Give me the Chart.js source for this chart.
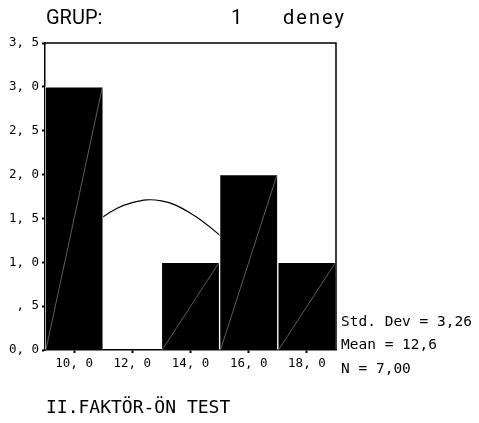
<!DOCTYPE html>
<html>
<head>
<meta charset="utf-8">
<script src="https://cdn.jsdelivr.net/npm/chart.js@4"></script>
<style>
  html, body { margin: 0; padding: 0; background: #fff; }
  canvas { display: block; }
</style>
</head>
<body>
<canvas id="histChart" width="479" height="423"></canvas>
<script>
// Histogram bins (midpoints) and counts
const binMids = [10, 12, 14, 16, 18];
const counts = [3, 0, 1, 2, 1];

// Normal curve read at each whole x value
const curveX = [9, 10, 11, 12, 13, 14, 15, 16, 17, 18, 19];
const curveY = [0.93, 1.25, 1.52, 1.68, 1.70, 1.56, 1.31, 0.99, 0.69, 0.43, 0.25];

const xTicks = [10, 12, 14, 16, 18];
const yTicks = [0, 0.5, 1, 1.5, 2, 2.5, 3, 3.5];

const statLines = ['Std. Dev = 3,26', 'Mean = 12,6', 'N = 7,00'];
const titleParts = ['GRUP:', '1', 'deney'];
const footer = 'II.FAKTÖR-ÖN TEST';

const mono = '"DejaVu Sans Mono", monospace';

function fmt(v) {
    let s = v.toFixed(1).replace('.', ', ');
    if (s.startsWith('0, ') && v !== 0) s = s.slice(1);
    return s;
}

// frame, bar diagonals and the text around the plot
const extras = {
    id: 'extras',
    afterDatasetsDraw(chart) {
        const ctx = chart.ctx;
        const a = chart.chartArea;
        const meta = chart.getDatasetMeta(0);
        ctx.save();
        ctx.strokeStyle = '#9a9a9a';
        ctx.lineWidth = 0.6;
        meta.data.forEach((bar, i) => {
            if (!counts[i]) return;
            const p = bar.getProps(['x', 'y', 'base', 'width'], true);
            ctx.beginPath();
            ctx.moveTo(p.x - p.width / 2 + 1, p.base);
            ctx.lineTo(p.x + p.width / 2 - 1, p.y + 1);
            ctx.stroke();
        });
        ctx.strokeStyle = '#000';
        ctx.lineWidth = 1.5;
        ctx.beginPath();
        ctx.moveTo(a.left, a.top);
        ctx.lineTo(a.right, a.top);
        ctx.lineTo(a.right, a.bottom);
        ctx.stroke();
        ctx.restore();
    },
    afterDraw(chart) {
        const ctx = chart.ctx;
        ctx.save();
        ctx.fillStyle = '#000';
        ctx.textBaseline = 'alphabetic';
        ctx.font = '20px Roboto';
        ctx.fillText(titleParts[0], 46, 24);
        ctx.fillText(titleParts[1], 231, 24);
        ctx.letterSpacing = '2px';
        ctx.fillText(titleParts[2], 283, 24);
        ctx.letterSpacing = '0px';
        ctx.font = '14.5px ' + mono;
        ctx.textBaseline = 'middle';
        statLines.forEach((t, i) => ctx.fillText(t, 341, 322 + i * 23.5));
        ctx.font = '18px ' + mono;
        ctx.fillText(footer, 46, 408);
        ctx.restore();
    }
};

new Chart(document.getElementById('histChart'), {
    data: {
        datasets: [
            {
                type: 'bar',
                data: binMids.map((x, i) => ({ x: x, y: counts[i] })),
                backgroundColor: '#000',
                borderColor: '#fff',
                borderWidth: 1,
                barPercentage: 1,
                categoryPercentage: 1,
                order: 0
            },
            {
                type: 'line',
                data: curveX.map((x, i) => ({ x: x, y: curveY[i] })),
                borderColor: '#000',
                borderWidth: 1.2,
                pointRadius: 0,
                tension: 0.4,
                fill: false,
                order: 1
            }
        ]
    },
    options: {
        responsive: false,
        animation: false,
        events: [],
        layout: { padding: { left: 0, top: 43, right: 143, bottom: 43 } },
        plugins: {
            legend: { display: false },
            tooltip: { enabled: false },
            title: { display: false }
        },
        scales: {
            x: {
                type: 'linear',
                min: 9,
                max: 19,
                offset: false,
                afterBuildTicks: (s) => { s.ticks = xTicks.map(v => ({ value: v })); },
                afterFit: (s) => { s.height = 30; },
                grid: { offset: false, drawOnChartArea: false, tickLength: 3, tickWidth: 2, color: '#000' },
                border: { color: '#000', width: 1.5 },
                ticks: {
                    color: '#000',
                    font: { family: mono, size: 12.5 },
                    padding: 3,
                    maxRotation: 0,
                    callback: (v) => fmt(v)
                }
            },
            y: {
                min: 0,
                max: 3.5,
                afterBuildTicks: (s) => { s.ticks = yTicks.map(v => ({ value: v })); },
                afterFit: (s) => { s.width = 45; },
                grid: { drawOnChartArea: false, tickLength: 3, tickWidth: 2, color: '#000' },
                border: { color: '#000', width: 1.5 },
                ticks: {
                    color: '#000',
                    font: { family: mono, size: 12.5 },
                    padding: 3,
                    callback: (v) => fmt(v)
                }
            }
        }
    },
    plugins: [extras]
});
</script>
</body>
</html>
